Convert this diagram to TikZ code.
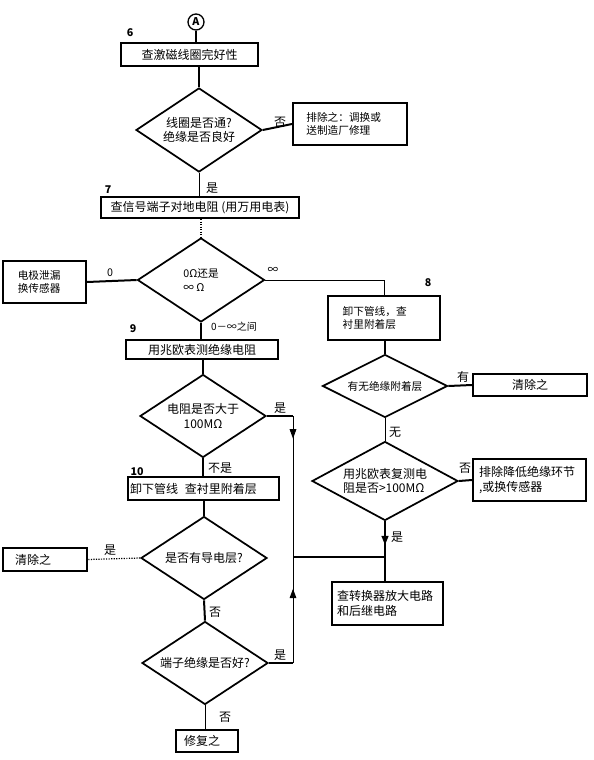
\documentclass[tikz,border=0pt]{standalone}
\usepackage{fontspec}
\setmainfont{Noto Sans CJK SC}
\usetikzlibrary{shapes.geometric,arrows.meta,decorations.markings}
\begin{document}
\begin{tikzpicture}[x=0.75pt,y=-0.75pt,
  font=\fontsize{9}{11}\selectfont,
  thk/.style={line width=1.5pt},
  thn/.style={line width=0.7pt},
  dotl/.style={line width=0.9pt,densely dotted},
  box/.style={draw,line width=1.5pt,inner ysep=1pt,align=left},
  dia/.style={draw,diamond,line width=1.3pt,inner sep=0pt,align=center,aspect=1.52},
  sm/.style={font=\fontsize{8}{10}\selectfont},
  lbl/.style={inner sep=0pt},
  num/.style={inner sep=0pt,font=\fontsize{8}{9}\selectfont\bfseries},
  arrowat/.style={postaction={decorate},decoration={markings,mark=at position #1 with {\arrow{Triangle[length=7pt,width=5pt]}}}},
]
\useasboundingbox (0,0) rectangle (593,760);

% ---- left / centre column ----
\node[draw,circle,line width=1pt,minimum size=12pt,inner sep=0pt,font=\fontsize{8}{9}\selectfont\bfseries] (A) at (196,22) {A};
\node[box,align=center,minimum width=102.75pt,minimum height=17.25pt] (b1) at (189.5,54.5) {查激磁线圈完好性};
\node[dia,minimum width=94.5pt,minimum height=63pt] (d1) at (199,130) {线圈是否通?\\绝缘是否良好};
\node[box,sm,minimum width=85.5pt,minimum height=31.5pt,inner xsep=10pt,text width=65.5pt] (r1) at (350,124) {排除之：调换或\\送制造厂修理};
\node[box,align=center,minimum width=148.5pt,minimum height=15.75pt,inner sep=0pt] (b2) at (200,207.5) {查信号端子对地电阻 (用万用电表)};
\node[dia,sm,align=left,minimum width=95.25pt,minimum height=63pt] (d2) at (201,280) {0Ω还是\\∞ Ω};
\node[box,sm,minimum width=62.25pt,minimum height=31.5pt,inner xsep=11pt,text width=40pt] (l1) at (44.5,282) {电极泄漏\\换传感器};
\node[box,align=center,minimum width=114pt,minimum height=14.25pt,inner sep=0pt] (b3) at (202,349.5) {用兆欧表测绝缘电阻};
\node[dia,minimum width=94.5pt,minimum height=62.25pt] (d3) at (203,416) {电阻是否大于\\100MΩ};
\node[box,minimum width=113.25pt,minimum height=17.25pt,inner xsep=1.5pt,inner ysep=0pt,text width=110pt] (b10) at (203.5,488.5) {卸下管线\hspace{5pt}查衬里附着层};
\node[dia,minimum width=94.5pt,minimum height=62.25pt] (d4) at (204,558) {是否有导电层?};
\node[box,minimum width=63pt,minimum height=17.25pt,inner xsep=9pt,inner ysep=0pt,text width=45pt] (l2) at (45,559.5) {清除之};
\node[dia,minimum width=94.5pt,minimum height=62.25pt] (d5) at (205,663) {端子绝缘是否好?};
\node[box,minimum width=46.5pt,minimum height=16.5pt,inner xsep=6pt,inner ysep=0pt,text width=34.5pt] (b11) at (207,741) {修复之};

% ---- right column ----
\node[box,sm,minimum width=84pt,minimum height=33pt,inner xsep=11pt,text width=62pt] (b8) at (384,318) {卸下管线，查\\衬里附着层};
\node[dia,sm,aspect=1.98,minimum width=93.75pt,minimum height=47.25pt] (d6) at (385,386) {有无绝缘附着层};
\node[box,align=center,minimum width=85.5pt,minimum height=16.5pt,inner sep=0pt] (r2) at (530,385) {清除之};
\node[dia,align=left,aspect=1.85,minimum width=109.5pt,minimum height=59.25pt] (d7) at (385,481) {用兆欧表复测电\\阻是否>100MΩ};
\node[box,minimum width=84.75pt,minimum height=31.5pt,inner xsep=4.5pt,text width=75.75pt] (r3) at (529.5,480) {排除降低绝缘环节\\,或换传感器};
\node[box,minimum width=83.25pt,minimum height=32.25pt,inner xsep=3.75pt,text width=75.75pt] (b12) at (387.5,603.5) {查转换器放大电路\\和后继电路};

\coordinate (jn) at (293,557);

% ---- connectors ----
\draw[thk] (A.south) -- (A.south |- b1.north);
\draw[thk] (b1.south -| d1.north) -- (d1.north);
\draw[thk] (d1.east) -- (r1.west);
\draw[thn] (d1.south) -- (d1.south |- b2.north);
\draw[dotl] (b2.south -| d2.north) -- (d2.north);
\draw[thk] (d2.west) -- (l1.east);
\draw[thn] (d2.east) -| (b8.north);
\draw[thk] (d2.south) -- (d2.south |- b3.north);
\draw[thk] (b3.south -| d3.north) -- (d3.north);
\draw[thk] (d3.south) -- (d3.south |- b10.north);
\draw[thk] (d3.east) -- (d3.east -| jn);
\draw[thn,arrowat=0.16] (d3.east -| jn) -- (jn);
\draw[thk] (b10.south -| d4.north) -- (d4.north);
\draw[dotl] (d4.west) -- (l2.east);
\draw[thk] (d4.south) -- (d5.north);
\draw[thk] (d5.east) -- (d5.east -| jn);
\draw[thn,arrowat=0.70] (d5.east -| jn) -- (jn);
\draw[thn] (d5.south) -- (d5.south |- b11.north);
\draw[thk] (b8.south -| d6.north) -- (d6.north);
\draw[thk] (d6.east) -- (r2.west);
\draw[thn] (d6.south) -- (d7.north);
\draw[thk] (d7.east) -- (r3.west);
\draw[thk,arrowat=0.40] (d7.south) -- (d7.south |- b12.north);
\draw[thk] (jn) -- (jn -| d7.south);

% ---- step numbers ----
\node[num] (n6) at (130,33) {6};
\node[num] (n7) at (108,190) {7};
\node[num] (n9) at (133,329) {9};
\node[num] (n10) at (137,472) {10};
\node[num] (n8) at (428,283) {8};

% ---- branch labels ----
\node[lbl] (t1) at (280,122) {否};
\node[lbl] (t2) at (212,188) {是};
\node[lbl,sm] (t3) at (110,273) {0};
\node[lbl,sm] (t4) at (273,270) {∞};
\node[lbl,font=\fontsize{7.5}{9}\selectfont] (t5) at (234,327) {0－∞之间};
\node[lbl] (t6) at (280,408) {是};
\node[lbl] (t7) at (220,468) {不是};
\node[lbl] (t8) at (110,550) {是};
\node[lbl] (t9) at (215,612) {否};
\node[lbl] (t10) at (280,655) {是};
\node[lbl] (t11) at (225,717) {否};
\node[lbl] (t12) at (463,377) {有};
\node[lbl] (t13) at (395,432) {无};
\node[lbl] (t14) at (465,468) {否};
\node[lbl] (t15) at (397,537) {是};
\end{tikzpicture}
\end{document}
